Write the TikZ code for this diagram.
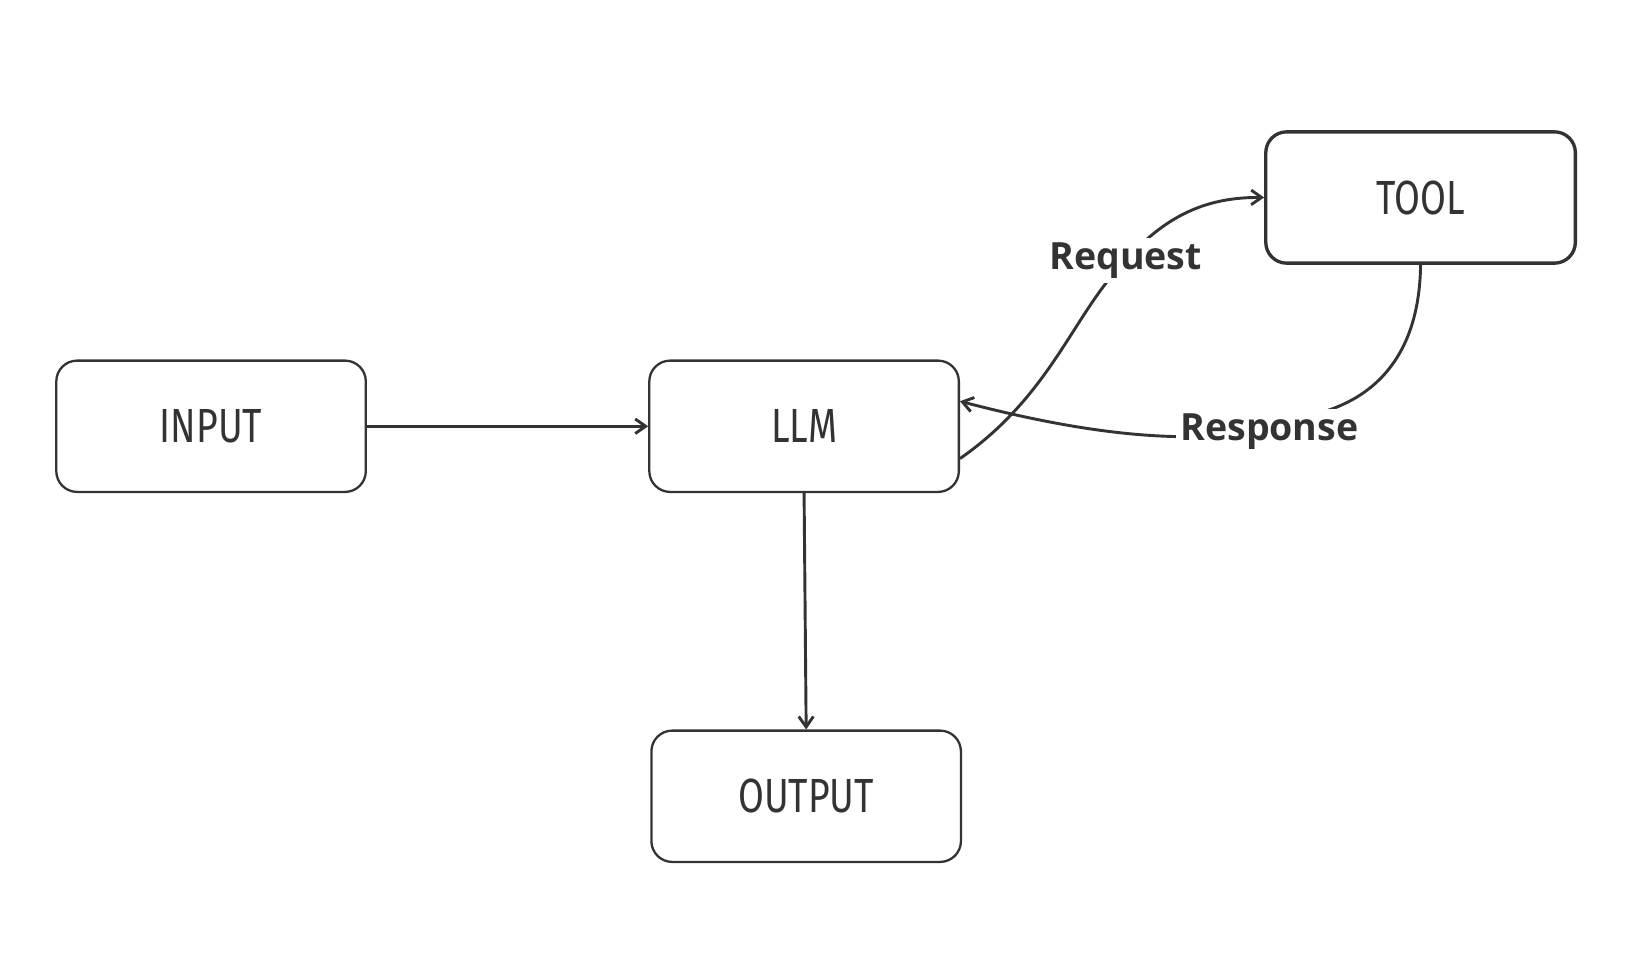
\documentclass[tikz,border=0pt]{standalone}
\usepackage{fontspec}
\setmainfont{Open Sans}
\newfontfamily\boxfont[FakeStretch=0.78]{Fira Sans}
\usetikzlibrary{arrows.meta}
\definecolor{ink}{HTML}{333333}
\begin{document}
\begin{tikzpicture}[x=1pt,y=-1pt,
  box/.style={draw=ink,line width=2.2pt,rounded corners=20pt,minimum width=297pt,minimum height=126pt,inner sep=0pt,font=\boxfont\fontsize{46}{50}\selectfont,text=ink},
  conn/.style={draw=ink,line width=2.8pt,-{Straight Barb[length=10pt,width=14pt]}},
  lbl/.style={fill=white,font=\bfseries\fontsize{36}{40}\selectfont,text=ink,inner sep=4pt}]
\useasboundingbox (0,0) rectangle (1563,920);
\node[box] (in) at (202.5,409) {INPUT};
\node[box] (llm) at (771.5,409) {LLM};
\node[box] (out) at (773.5,764) {OUTPUT};
\node[box,line width=3.2pt] (tool) at (1363,189.5) {TOOL};
\draw[conn] (in.east) -- (llm.west);
\draw[conn] (llm.south) -- (out.north);
\draw[conn] ([yshift=-31pt]llm.east) .. controls (1010,378) and (1030,300) .. (1080,250)
  .. controls (1120,205) and (1160,189) .. (tool.west)
  node[lbl,pos=0] at (1060,285) {Request};
\draw[conn] (tool.south) .. controls (1362,340) and (1320,380) .. (1270,395)
  .. controls (1200,425) and (1100,432) .. ([yshift=24pt]llm.east);
\node[lbl] (resp) at (1218,414) {Response};
\end{tikzpicture}
\end{document}
